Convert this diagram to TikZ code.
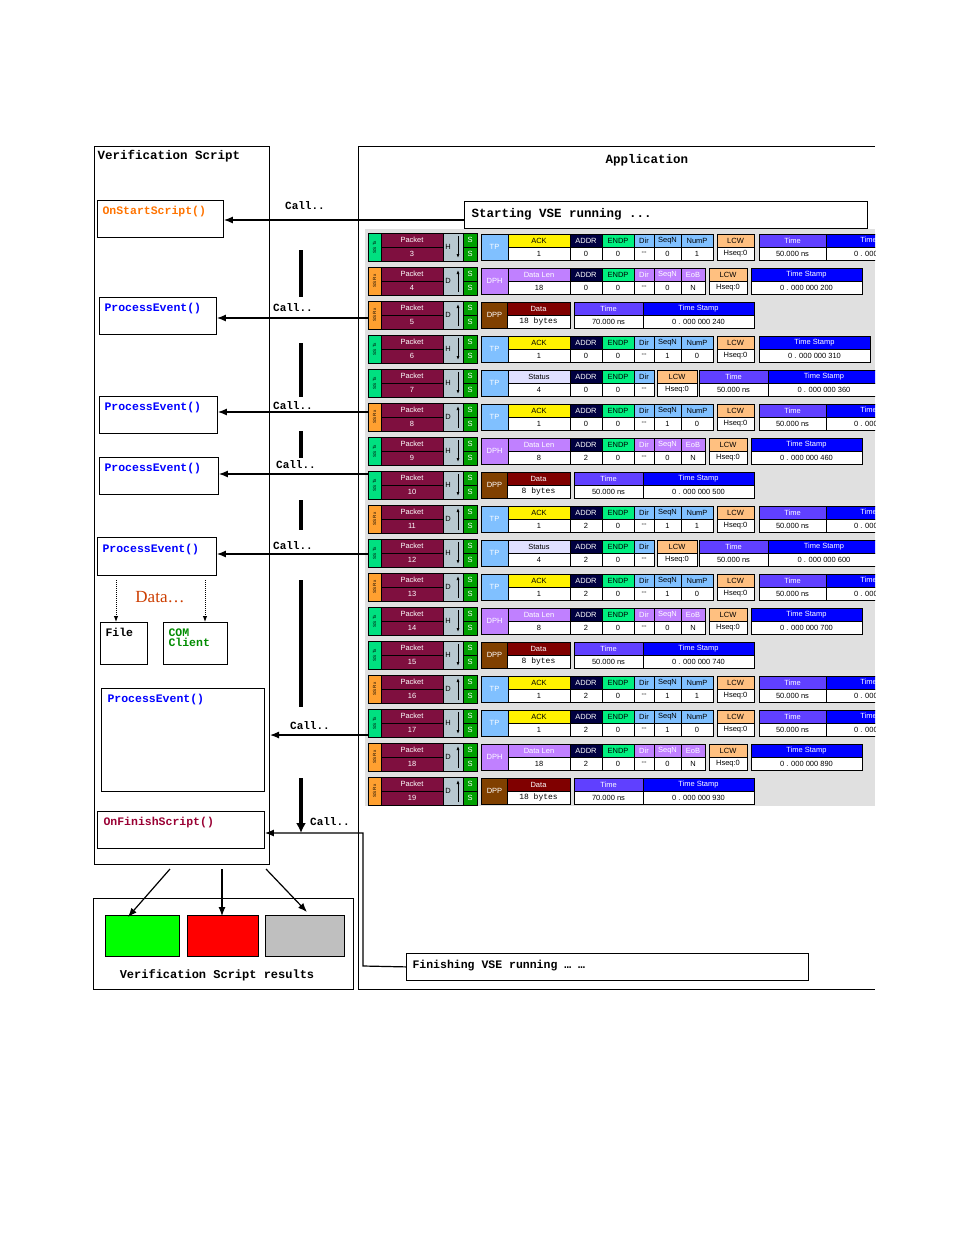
\documentclass[tikz,border=0pt]{standalone}
\usepackage{fontspec}
\setmainfont{Liberation Serif}
\newfontfamily\monob{Liberation Mono}[BoldFont=* Bold]
\newfontfamily\pktf{Liberation Sans}
\usetikzlibrary{arrows.meta}
\definecolor{pmaroon}{HTML}{7F0F3F}
\definecolor{pgray}{HTML}{B8C8D0}
\definecolor{pgreen}{HTML}{00A000}
\definecolor{stx}{HTML}{00E080}
\definecolor{srx}{HTML}{FFA030}
\definecolor{tpblue}{HTML}{80C0FF}
\definecolor{dphlav}{HTML}{C080FF}
\definecolor{dppbrown}{HTML}{804000}
\definecolor{datared}{HTML}{800000}
\definecolor{addrnavy}{HTML}{000040}
\definecolor{endpgreen}{HTML}{00F080}
\definecolor{lcworange}{HTML}{FFC080}
\definecolor{timeblue}{HTML}{6040FF}
\definecolor{tsblue}{HTML}{0000FF}
\definecolor{statgray}{HTML}{E0E0FF}
\definecolor{bggray}{HTML}{E0E0E0}
\tikzset{
  fbox/.style={draw, line width=0.9pt, anchor=north west},
  fname/.style={anchor=north west, font=\monob\bfseries\fontsize{11.5}{12}\selectfont},
  calltxt/.style={font=\monob\bfseries\fontsize{11}{12}\selectfont},
  callarrow/.style={-{Latex[length=9pt,width=7pt]}, line width=1.2pt},
  bar/.style={line width=3.5pt},
  ptxt/.style={font=\pktf\fontsize{7.5}{8}\selectfont, inner sep=0pt}
}
% field: x1 x2 y fill headcolor head value
\newcommand\fld[7]{%
  \draw[fill=#4] (#1,#3+1) rectangle (#2,#3+14);
  \draw[fill=white] (#1,#3+14) rectangle (#2,#3+27);
  \node[ptxt, text=#5] at ({(#1+#2)/2},#3+7.5) {#6};
  \node[ptxt] at ({(#1+#2)/2},#3+20.5) {#7};
}
% packet block: y number H/D
\newcommand\pkt[3]{%
  \ifx H#3\def\sc{stx}\def\ss{SS Tx}\else\def\sc{srx}\def\ss{SS Rx}\fi
  \draw[fill=\sc] (368,#1) rectangle (381,#1+28);
  \node[ptxt, rotate=90, font=\pktf\fontsize{4.5}{5}\selectfont] at (374.5,#1+14) {\ss};
  \draw[fill=pmaroon] (381,#1) rectangle (443,#1+14);
  \draw[fill=pmaroon] (381,#1+14) rectangle (443,#1+28);
  \node[ptxt, text=white] at (412,#1+7) {Packet};
  \node[ptxt, text=white] at (412,#1+21) {#2};
  \draw[fill=pgray] (443,#1) rectangle (463,#1+28);
  \node[ptxt] at (448,#1+14) {#3};
  \ifx H#3\draw[-{Latex[length=4pt]}, line width=1pt] (458,#1+3) -- (458,#1+25);
  \else\draw[-{Latex[length=4pt]}, line width=1pt] (458,#1+25) -- (458,#1+3);\fi
  \draw[fill=pgreen] (463,#1) rectangle (477,#1+14);
  \draw[fill=pgreen] (463,#1+14) rectangle (477,#1+28);
  \node[ptxt, text=white] at (470,#1+7) {S};
  \node[ptxt, text=white] at (470,#1+21) {S};
}
\newcommand\typ[3]{% y fill name
  \draw[fill=#2] (481,#1+1) rectangle (508,#1+27);
  \node[ptxt, text=white] at (494.5,#1+14) {#3};
}
% ACK row with Time and Time Stamp: y addr seqn nump
\newcommand\tpA[4]{%
  \typ{#1}{tpblue}{TP}
  \fld{508}{570}{#1}{yellow}{black}{ACK}{1}
  \fld{570}{602}{#1}{addrnavy}{white}{ADDR}{#2}
  \fld{602}{634}{#1}{endpgreen}{black}{ENDP}{0}
  \fld{634}{654}{#1}{tpblue}{black}{Dir}{--}
  \fld{654}{681}{#1}{tpblue}{black}{SeqN}{#3}
  \fld{681}{713}{#1}{tpblue}{black}{NumP}{#4}
  \fld{717}{754}{#1}{lcworange}{black}{LCW}{Hseq:0}
  \fld{759}{826}{#1}{timeblue}{white}{Time}{50.000 ns}
  \fld{826}{935}{#1}{tsblue}{white}{Time Stamp}{0 . 000 000 000}
}
% ACK row with Time Stamp only
\newcommand\tpB[5]{%
  \typ{#1}{tpblue}{TP}
  \fld{508}{570}{#1}{yellow}{black}{ACK}{1}
  \fld{570}{602}{#1}{addrnavy}{white}{ADDR}{#2}
  \fld{602}{634}{#1}{endpgreen}{black}{ENDP}{0}
  \fld{634}{654}{#1}{tpblue}{black}{Dir}{--}
  \fld{654}{681}{#1}{tpblue}{black}{SeqN}{#3}
  \fld{681}{713}{#1}{tpblue}{black}{NumP}{#4}
  \fld{717}{754}{#1}{lcworange}{black}{LCW}{Hseq:0}
  \fld{759}{870}{#1}{tsblue}{white}{Time Stamp}{#5}
}
\newcommand\stat[3]{%
  \typ{#1}{tpblue}{TP}
  \fld{508}{570}{#1}{statgray}{black}{Status}{4}
  \fld{570}{602}{#1}{addrnavy}{white}{ADDR}{#2}
  \fld{602}{634}{#1}{endpgreen}{black}{ENDP}{0}
  \fld{634}{654}{#1}{tpblue}{black}{Dir}{--}
  \fld{657}{697}{#1}{lcworange}{black}{LCW}{Hseq:0}
  \fld{699}{768}{#1}{timeblue}{white}{Time}{50.000 ns}
  \fld{768}{880}{#1}{tsblue}{white}{Time Stamp}{#3}
}
\newcommand\dph[4]{%
  \typ{#1}{dphlav}{DPH}
  \fld{508}{570}{#1}{dphlav}{white}{Data Len}{#2}
  \fld{570}{602}{#1}{addrnavy}{white}{ADDR}{#3}
  \fld{602}{634}{#1}{endpgreen}{black}{ENDP}{0}
  \fld{634}{654}{#1}{dphlav}{white}{Dir}{--}
  \fld{654}{681}{#1}{dphlav}{white}{SeqN}{0}
  \fld{681}{705}{#1}{dphlav}{white}{EoB}{N}
  \fld{709}{747}{#1}{lcworange}{black}{LCW}{Hseq:0}
  \fld{751}{862}{#1}{tsblue}{white}{Time Stamp}{#4}
}
\newcommand\dpp[4]{%
  \typ{#1}{dppbrown}{DPP}
  \fld{507}{570}{#1}{datared}{white}{Data}{{\monob\fontsize{8}{8}\selectfont #2}}
  \fld{574}{643}{#1}{timeblue}{white}{Time}{#3}
  \fld{643}{754}{#1}{tsblue}{white}{Time Stamp}{#4}
}
\begin{document}
\begin{tikzpicture}[x=1pt,y=-1pt]
  \useasboundingbox (0,0) rectangle (954,1235);

  % frames
  \draw[line width=0.8pt] (94,146) rectangle (269,864);
  \node[fname, font=\monob\bfseries\fontsize{12.5}{13}\selectfont] at (94,147) {Verification Script};
  \draw[line width=0.8pt] (875,146) -- (358,146) -- (358,989) -- (875,989);
  \node[calltxt, font=\monob\bfseries\fontsize{12.5}{13}\selectfont] at (647,160) {Application};
  \node[draw, line width=0.8pt, anchor=north west, minimum width=403, minimum height=27, inner sep=0pt] (start) at (464,201) {};
  \node[anchor=west, font=\monob\bfseries\fontsize{12.5}{13}\selectfont] at (468,214.5) {Starting VSE running ...};
  \node[draw, line width=0.8pt, anchor=north west, minimum width=402, minimum height=27, inner sep=0pt] (finish) at (406,953) {};
  \node[anchor=west, font=\monob\bfseries\fontsize{11.5}{12}\selectfont] at (409,966) {Finishing VSE running … …};

  % packet list
  \fill[bggray] (365,229) rectangle (875,806);
  \begin{scope}
    \clip (365,229) rectangle (875,806);
    \pkt{233}{3}{H}  \tpA{233}{0}{0}{1}
    \pkt{267}{4}{D}  \dph{267}{18}{0}{0 . 000 000 200}
    \pkt{301}{5}{D}  \dpp{301}{18 bytes}{70.000 ns}{0 . 000 000 240}
    \pkt{335}{6}{H}  \tpB{335}{0}{1}{0}{0 . 000 000 310}
    \pkt{369}{7}{H}  \stat{369}{0}{0 . 000 000 360}
    \pkt{403}{8}{D}  \tpA{403}{0}{1}{0}
    \pkt{437}{9}{H}  \dph{437}{8}{2}{0 . 000 000 460}
    \pkt{471}{10}{H} \dpp{471}{8 bytes}{50.000 ns}{0 . 000 000 500}
    \pkt{505}{11}{D} \tpA{505}{2}{1}{1}
    \pkt{539}{12}{H} \stat{539}{2}{0 . 000 000 600}
    \pkt{573}{13}{D} \tpA{573}{2}{1}{0}
    \pkt{607}{14}{H} \dph{607}{8}{2}{0 . 000 000 700}
    \pkt{641}{15}{H} \dpp{641}{8 bytes}{50.000 ns}{0 . 000 000 740}
    \pkt{675}{16}{D} \tpA{675}{2}{1}{1}
    \pkt{709}{17}{H} \tpA{709}{2}{1}{0}
    \pkt{743}{18}{D} \dph{743}{18}{2}{0 . 000 000 890}
    \pkt{777}{19}{D} \dpp{777}{18 bytes}{70.000 ns}{0 . 000 000 930}
  \end{scope}

  % script functions
  \node[fbox, minimum width=126, minimum height=37] (onstart) at (97,200) {};
  \node[fname, text=orange!90!red] at (99,203) {OnStartScript()};
  \node[fbox, minimum width=117, minimum height=37] (pe1) at (99,297) {};
  \node[fbox, minimum width=118, minimum height=37] (pe2) at (99,396) {};
  \node[fbox, minimum width=119, minimum height=37] (pe3) at (99,457) {};
  \node[fbox, minimum width=119, minimum height=38] (pe4) at (97,537) {};
  \node[fbox, minimum width=163, minimum height=103] (pe5) at (101,688) {};
  \foreach \n/\x/\y in {pe1/101/300, pe2/101/399, pe3/101/460, pe4/99/541, pe5/104/691}
    \node[fname, text=blue] at (\x,\y) {ProcessEvent()};
  \node[fbox, minimum width=167, minimum height=37] (onfinish) at (97,811) {};
  \node[fname, text=purple!80!black] at (100,814) {OnFinishScript()};
  \node[fbox, minimum width=47, minimum height=42] (file) at (100,622) {};
  \node[fname] at (102,625) {File};
  \node[fbox, minimum width=64, minimum height=42] (com) at (163,622) {};
  \node[fname, text=green!55!black, align=left] at (165,625) {COM\\[-2pt]Client};
  \node[text=orange!60!red!80!black, font=\fontsize{17}{18}\selectfont] at (160,597) {Data…};
  \draw[densely dotted, line width=1pt, -{Latex[length=6pt]}] (116,580) -- (file.north -| 116,0);
  \draw[densely dotted, line width=1pt, -{Latex[length=6pt]}] (205,580) -- (com.north -| 205,0);

  % calls
  \coordinate (r5) at (368,318);  \coordinate (r8) at (368,412);
  \coordinate (r10) at (368,474); \coordinate (r12) at (368,554);
  \coordinate (r17) at (368,735);
  \draw[callarrow] (start.west |- 0,220) -- (onstart.east |- 0,220);
  \draw[callarrow] (r5) -- (pe1.east |- r5);
  \draw[callarrow] (r8) -- (pe2.east |- r8);
  \draw[callarrow] (r10) -- (pe3.east |- r10);
  \draw[callarrow] (r12) -- (pe4.east |- r12);
  \draw[callarrow] (r17) -- (270,735);
  \draw[callarrow] (finish.west) -- (363,966) -- (363,833) -- (onfinish.east |- 0,833);
  \foreach \x/\y in {305/206, 293/308, 293/406, 296/465, 293/546, 310/726, 330/822}
    \node[calltxt] at (\x,\y) {Call..};
  \foreach \a/\b in {250/297, 343/397, 431/458, 500/530, 580/707}
    \draw[bar] (301,\a) -- (301,\b);
  \draw[bar, -{Latex[length=10pt,width=10pt]}] (301,778) -- (301,833);

  % results
  \draw[line width=0.8pt] (93,898) rectangle (353,989);
  \draw[fill=green] (105,915) rectangle (179,956);
  \draw[fill=red] (187,915) rectangle (258,956);
  \draw[fill=gray!50] (265,915) rectangle (344,956);
  \coordinate (g) at (128,917); \coordinate (rd) at (222,916); \coordinate (gy) at (307,912);
  \node[calltxt, font=\monob\bfseries\fontsize{12}{13}\selectfont] at (217,975) {Verification Script results};
  \draw[callarrow] (170,869) -- (g);
  \draw[callarrow] (222,869) -- (rd);
  \draw[callarrow] (266,869) -- (gy);
\end{tikzpicture}
\end{document}
